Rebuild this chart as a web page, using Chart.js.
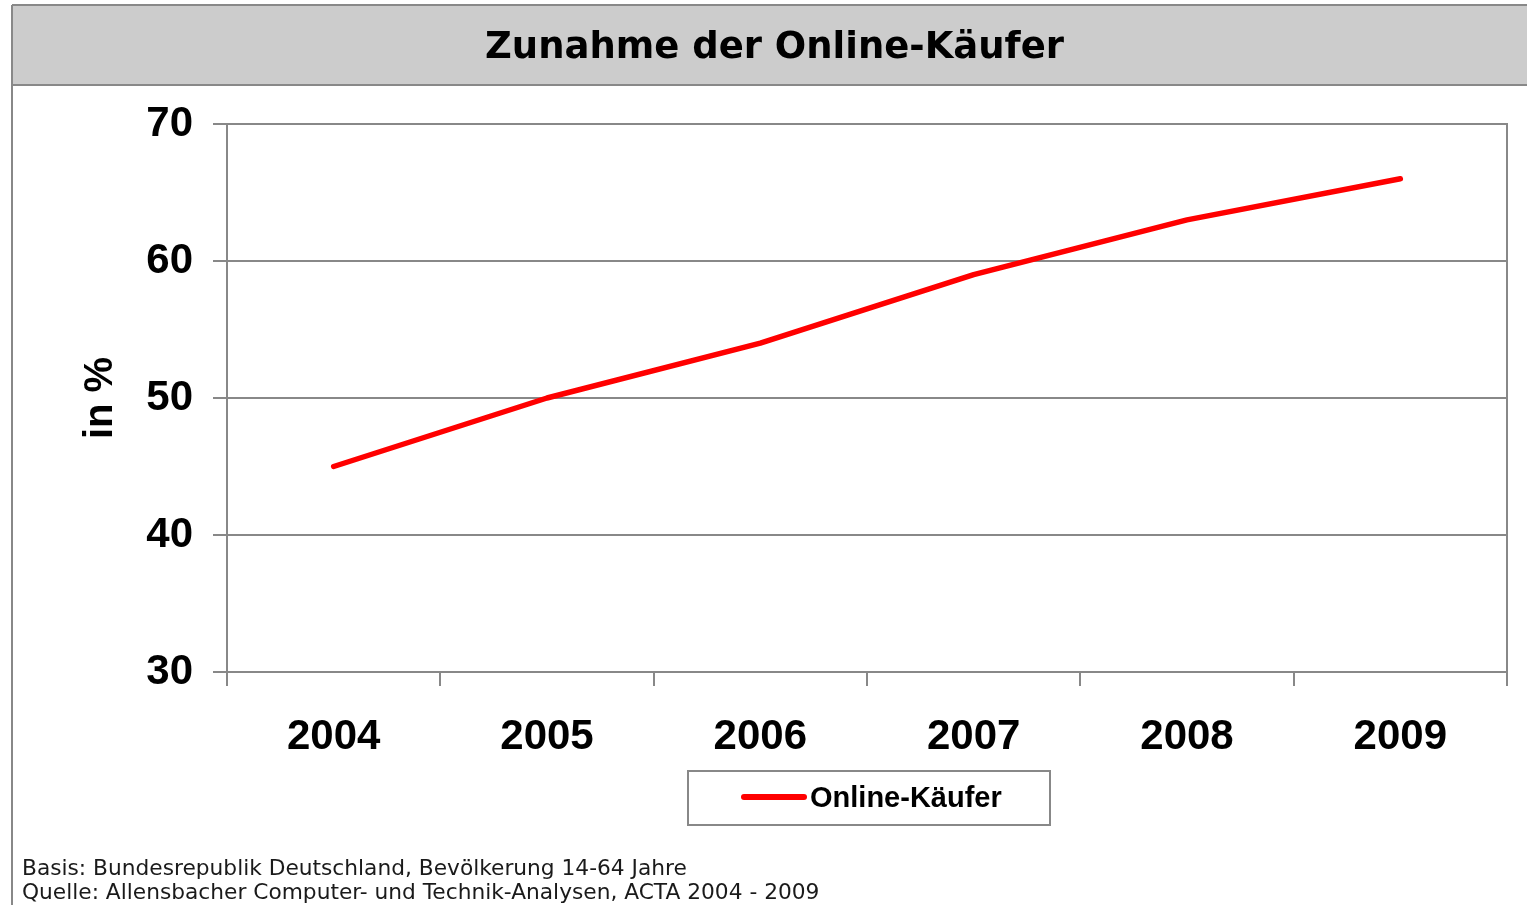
<!DOCTYPE html>
<html><head><meta charset="utf-8">
<script src="https://cdn.jsdelivr.net/npm/chart.js@4/dist/chart.umd.min.js"></script>
<style>html,body{margin:0;padding:0;background:#fff;overflow:hidden}canvas{display:block}</style>
</head><body>
<canvas id="c" width="1527" height="905"></canvas>
<script>
const categories = ['2004', '2005', '2006', '2007', '2008', '2009'];
const onlineKaeufer = [45, 50, 54, 59, 63, 66];
const seriesLabel = 'Online-Käufer';
const chartTitle = 'Zunahme der Online-Käufer';
const yAxisTitle = 'in %';
const yMin = 30, yMax = 70, yStep = 10;
const footerLines = [
  'Basis: Bundesrepublik Deutschland, Bevölkerung 14-64 Jahre',
  'Quelle: Allensbacher Computer- und Technik-Analysen, ACTA 2004 - 2009'
];

const GRAY = '#888888';
const ARIAL = '"Liberation Sans", Arial, sans-serif';
const VERDANA = '"DejaVu Sans", Verdana, sans-serif';

function fitSize(text, family, weight, targetW) {
  const c = document.createElement('canvas').getContext('2d');
  c.font = weight + ' 100px ' + family;
  return 100 * targetW / c.measureText(text).width;
}
const titleSize = fitSize(chartTitle, VERDANA, 'bold', 579);
const footerSize = fitSize(footerLines[0], VERDANA, 'normal', 665);

const framePlugin = {
  id: 'frame',
  beforeDraw(chart) {
    const ctx = chart.ctx;
    ctx.save();
    ctx.fillStyle = '#ffffff';
    ctx.fillRect(0, 0, chart.width, chart.height);
    ctx.fillStyle = '#cccccc';
    ctx.fillRect(12, 5, chart.width - 12, 80);
    ctx.strokeStyle = GRAY;
    ctx.lineWidth = 2;
    ctx.beginPath();
    ctx.moveTo(12, 5); ctx.lineTo(chart.width, 5);
    ctx.moveTo(12, 85); ctx.lineTo(chart.width, 85);
    ctx.moveTo(12, 5); ctx.lineTo(12, chart.height);
    ctx.stroke();
    ctx.restore();
  }
};

const legendBoxPlugin = {
  id: 'legendBox',
  afterDraw(chart) {
    const ctx = chart.ctx;
    const ca = chart.chartArea;
    const ds = chart.data.datasets[0];
    const cx = (ca.left + ca.right) / 2 + 2;
    const bw = 362, bh = 54;
    const bx = cx - bw / 2, by = ca.bottom + 99;
    ctx.save();
    ctx.strokeStyle = GRAY;
    ctx.lineWidth = 2;
    ctx.strokeRect(bx, by, bw, bh);
    ctx.strokeStyle = ds.borderColor;
    ctx.lineWidth = 6;
    ctx.lineCap = 'round';
    ctx.beginPath();
    ctx.moveTo(bx + 56, by + 26);
    ctx.lineTo(bx + 116, by + 26);
    ctx.stroke();
    ctx.fillStyle = '#000';
    ctx.font = 'bold 29px ' + ARIAL;
    ctx.textBaseline = 'middle';
    ctx.textAlign = 'left';
    ctx.fillText(ds.label, bx + 122, by + 28);
    ctx.restore();
  }
};

new Chart(document.getElementById('c'), {
  type: 'line',
  data: {
    labels: categories,
    datasets: [{
      label: seriesLabel,
      data: onlineKaeufer,
      borderColor: '#ff0000',
      backgroundColor: '#ff0000',
      borderWidth: 5.5,
      borderCapStyle: 'round',
      borderJoinStyle: 'round',
      pointRadius: 0,
      tension: 0,
      fill: false
    }]
  },
  options: {
    responsive: false,
    maintainAspectRatio: false,
    animation: false,
    devicePixelRatio: 1,
    layout: { padding: { left: 22, right: 0, top: 0, bottom: 0 } },
    plugins: {
      legend: { display: false },
      tooltip: { enabled: false },
      title: {
        display: true,
        text: chartTitle,
        color: '#000',
        font: { family: VERDANA, weight: 'bold', size: titleSize, lineHeight: 1.2 },
        padding: { top: 26, bottom: 124 - 26 - titleSize * 1.2 }
      },
      subtitle: {
        display: true,
        position: 'bottom',
        align: 'start',
        text: footerLines,
        color: '#1a1a1a',
        font: { family: VERDANA, weight: 'normal', size: footerSize, lineHeight: 24 / footerSize },
        padding: { top: 0, bottom: 0 }
      }
    },
    scales: {
      x: {
        type: 'category',
        offset: true,
        grid: { offset: true, drawOnChartArea: false, drawTicks: true, tickLength: 14, tickColor: GRAY, color: GRAY, lineWidth: 2 },
        border: { display: true, color: GRAY, width: 2 },
        ticks: { color: '#000', font: { family: ARIAL, weight: 'bold', size: 42 }, padding: 26, maxRotation: 0, autoSkip: false },
        afterFit(s) { s.height = 185; }
      },
      y: {
        min: yMin, max: yMax,
        grid: { color: GRAY, lineWidth: 2, tickLength: 14, tickColor: GRAY },
        border: { display: true, color: GRAY, width: 2 },
        ticks: { stepSize: yStep, color: '#000', font: { family: ARIAL, weight: 'bold', size: 42 }, padding: 20 },
        title: { display: true, text: yAxisTitle, color: '#000', font: { family: ARIAL, weight: 'bold', size: 40, lineHeight: 1.2 }, padding: { top: 55, bottom: 0 } },
        afterFit(s) { s.width = 205; }
      },
      y2: {
        position: 'right',
        display: true,
        min: yMin, max: yMax,
        grid: { display: false, drawTicks: false },
        border: { display: true, color: GRAY, width: 2 },
        ticks: { display: false },
        afterFit(s) { s.width = 20; }
      }
    }
  },
  plugins: [framePlugin, legendBoxPlugin]
});
</script>
</body></html>
